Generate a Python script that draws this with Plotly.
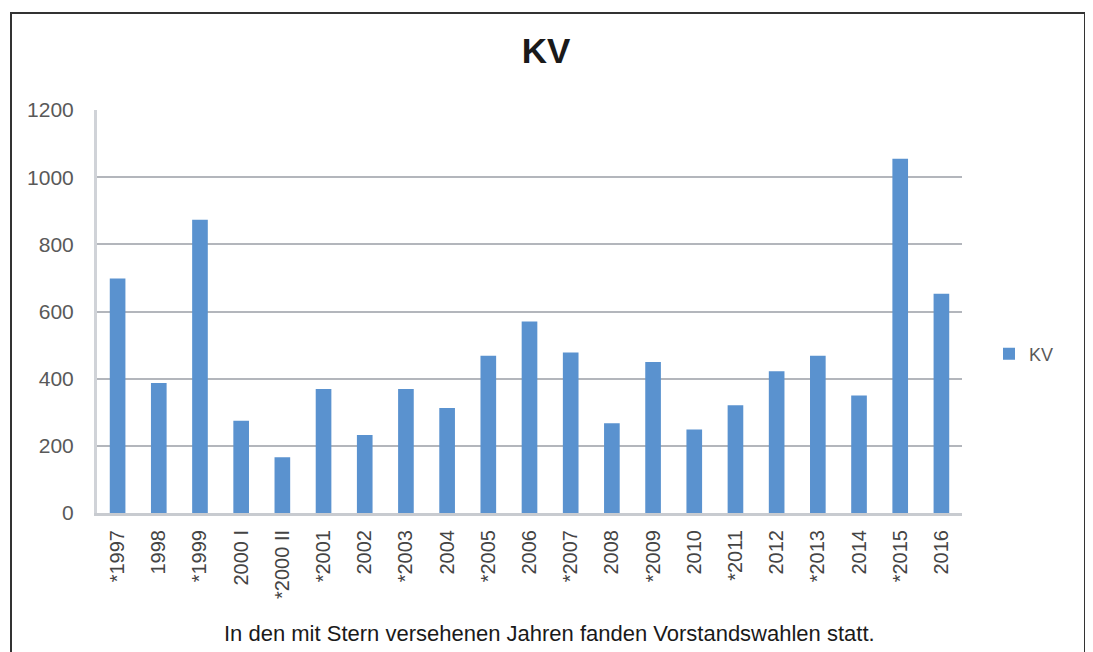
import plotly.graph_objects as go

categories = ["*1997", "1998", "*1999", "2000 I", "*2000 II", "*2001", "2002", "*2003",
              "2004", "*2005", "2006", "*2007", "2008", "*2009", "2010", "*2011",
              "2012", "*2013", "2014", "*2015", "2016"]
kv_values = [698, 387, 873, 275, 166, 369, 232, 369, 313, 468, 570, 478, 267, 450,
             249, 321, 422, 468, 350, 1055, 653]
y_ticks = [0, 200, 400, 600, 800, 1000, 1200]

OFF = 8  # page body margin
W, H = 1093 - OFF, 652 - OFF
L, R, T, B = 97 - OFF, 962 - OFF, 110 - OFF, 513 - OFF
pw, ph = R - L, B - T

def px(x):
    return (x - OFF - L) / pw

def py(y):
    return (B - (y - OFF)) / ph

fig = go.Figure()
fig.add_trace(go.Bar(
    x=categories, y=kv_values, name="KV",
    marker=dict(color="#5a92cf", line=dict(width=0)),
))

fig.update_layout(
    width=W, height=H,
    margin=dict(l=L, r=W - R, t=T, b=H - B),
    paper_bgcolor="white", plot_bgcolor="white",
    bargap=0.62,
    showlegend=True,
    font=dict(family="Liberation Sans, Arial, sans-serif", color="#595959"),
    title=dict(text="<b>KV</b>", x=(546 - OFF) / W, xanchor="center",
               y=1 - (51 - OFF) / H, yanchor="middle",
               font=dict(size=35, color="#1a1a1a", family="Liberation Sans, Arial, sans-serif")),
    legend=dict(x=px(989), y=py(354), xanchor="left", yanchor="middle",
                font=dict(size=18, color="#595959"), bgcolor="rgba(0,0,0,0)"),
    xaxis=dict(tickangle=-90, tickfont=dict(size=20, color="#444444"),
               showline=True, linecolor="#c8cbd0", linewidth=3,
               ticks="", showgrid=False, ticklabelstandoff=6),
    yaxis=dict(range=[0, 1200], tickvals=y_ticks, tickfont=dict(size=21, color="#595959"),
               showgrid=True, gridcolor="#b3b6bc", gridwidth=2,
               showline=True, linecolor="#d0d3d8", linewidth=3,
               zeroline=False, ticks="", ticklen=0, ticklabelstandoff=16),
)

fig.add_annotation(
    text="In den mit Stern versehenen Jahren fanden Vorstandswahlen statt.",
    xref="paper", yref="paper", x=px(549), y=py(633),
    xanchor="center", yanchor="middle", showarrow=False,
    font=dict(size=22, color="#1a1a1a", family="Liberation Sans, Arial, sans-serif"),
)

fig.add_shape(type="rect", xref="paper", yref="paper",
              x0=px(11), x1=px(1085), y0=py(680), y1=py(13),
              line=dict(color="#333333", width=2), fillcolor="rgba(0,0,0,0)")

fig.write_html("out.html")
